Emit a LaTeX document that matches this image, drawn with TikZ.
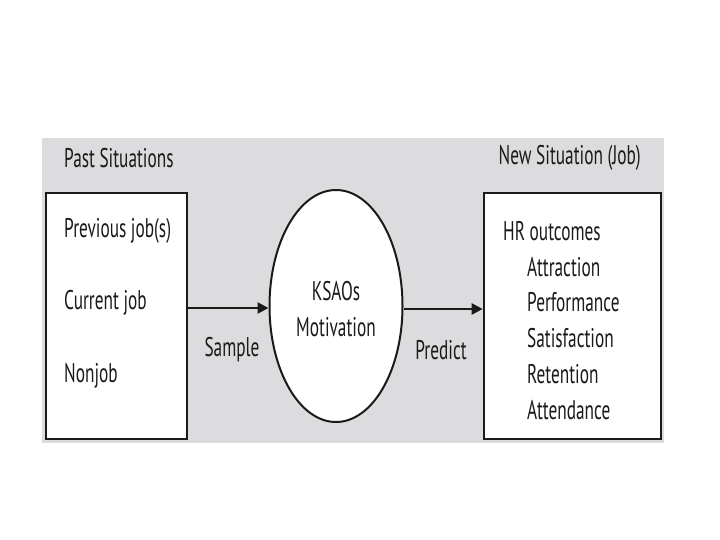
\documentclass[tikz,border=0pt]{standalone}
\usepackage{fontspec}
\setmainfont[FakeStretch=0.64]{PT Sans}
\usetikzlibrary{arrows.meta,shapes.geometric}
\definecolor{bggrey}{HTML}{DCDCDE}
\definecolor{ink}{HTML}{1A1A1A}
\tikzset{
  lbl/.style={font=\fontsize{27}{30}\selectfont, text=ink, inner sep=0pt, anchor=west},
  clbl/.style={font=\fontsize{27}{30}\selectfont, text=ink, inner sep=0pt},
  boxshape/.style={draw=ink, line width=2.6pt, fill=white},
  conn/.style={draw=ink, line width=2.4pt, -{Triangle[length=11pt,width=11pt]}}
}
\begin{document}
\begin{tikzpicture}[x=1pt,y=-1pt]
\useasboundingbox (0,0) rectangle (720,540);
\fill[bggrey] (42,138) rectangle (664,443);
\node[boxshape, minimum width=141pt, minimum height=246pt, inner sep=0pt] (past) at (116.5,316) {};
\node[boxshape, minimum width=177pt, minimum height=246pt, inner sep=0pt] (new) at (572.5,316) {};
\node[draw=ink, line width=2pt, fill=white, ellipse, minimum width=133pt, minimum height=232pt, inner sep=0pt] (ksao) at (336,306) {};
\node[lbl] (t1) at (64,158) {Past Situations};
\node[lbl, anchor=east] (t2) at (641,158) {New Situation (Job)};
\node[lbl] (p1) at (64,231) {Previous job(s)};
\node[lbl] (p2) at (64,303) {Current job};
\node[lbl] (p3) at (64,376) {Nonjob};
\node[clbl] (k1) at (336,291) {KSAOs};
\node[clbl] (k2) at (336,327) {Motivation};
\node[clbl] (s) at (232,350) {Sample};
\node[clbl] (pr) at (441,350) {Predict};
\node[lbl] (h0) at (503,231) {HR outcomes};
\node[lbl] (h1) at (527,267) {Attraction};
\node[lbl] (h2) at (527,302) {Performance};
\node[lbl] (h3) at (527,338) {Satisfaction};
\node[lbl] (h4) at (527,374) {Retention};
\node[lbl] (h5) at (527,410) {Attendance};
\coordinate (a1) at (past.east |- 0,308);
\coordinate (a2) at (ksao.west |- 0,308);
\draw[conn] (a1) -- (a2);
\coordinate (b1) at (ksao.east |- 0,309);
\coordinate (b2) at (new.west |- 0,309);
\draw[conn] (b1) -- (b2);
\end{tikzpicture}
\end{document}
